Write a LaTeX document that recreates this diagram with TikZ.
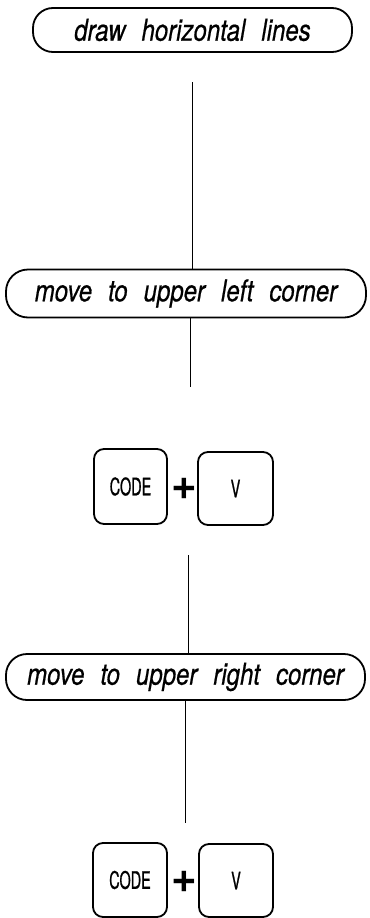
\documentclass[tikz,border=0pt]{standalone}
\usepackage{fontspec}
\newfontfamily\flowfont[FakeStretch=0.8,FakeBold=0.6]{TeX Gyre Heros}
\newfontfamily\keyfont[FakeStretch=0.6,FakeBold=0.8]{TeX Gyre Heros}
\newfontfamily\plusfont{TeX Gyre Heros}
\begin{document}
\begin{tikzpicture}[x=1bp,y=-1bp,
  terminal/.style={draw,line width=1.8bp,inner sep=0pt,
    font={\flowfont\itshape\fontsize{30bp}{30bp}\selectfont\spaceskip=16bp plus 2bp\relax}},
  keybox/.style={draw,line width=1.8bp,rounded corners=10bp,inner sep=0pt,
    minimum width=74bp,minimum height=74bp,
    font={\keyfont\fontsize{24bp}{24bp}\selectfont}},
  plussign/.style={inner sep=0pt,font={\plusfont\bfseries\fontsize{44bp}{44bp}\selectfont}},
  link/.style={line width=1bp}]
\useasboundingbox (0,0) rectangle (369,918);
% terminals
\node[terminal,rounded corners=20bp,minimum width=319bp,minimum height=44bp] (t1) at (192.5,30) {draw horizontal lines};
\node[terminal,rounded corners=22bp,minimum width=360bp,minimum height=48bp] (t2) at (186,293.5) {move to upper left corner};
\node[terminal,rounded corners=21bp,minimum width=359bp,minimum height=46bp] (t3) at (185.5,677) {move to upper right corner};
% keys 1
\node[keybox,minimum width=73bp,minimum height=75bp] (c1) at (130.5,486.5) {CODE};
\node[plussign] (p1) at (184,489) {+};
\node[keybox,minimum width=75bp,minimum height=73bp] (v1) at (235.5,488.5) {V};
% keys 2
\node[keybox,minimum width=74bp,minimum height=74bp] (c2) at (130,880) {CODE};
\node[plussign] (p2) at (184,882) {+};
\node[keybox,minimum width=74bp,minimum height=73bp] (v2) at (236,880.5) {V};
% connectors
\coordinate (a1) at (192,82);
\coordinate (a2) at (190,387);
\coordinate (a3) at (188,555);
\coordinate (a4) at (185,823);
\draw[link] (a1) -- (a1 |- t2.north);
\draw[link] (a2 |- t2.south) -- (a2);
\draw[link] (a3) -- (a3 |- t3.north);
\draw[link] (a4 |- t3.south) -- (a4);
\end{tikzpicture}
\end{document}
